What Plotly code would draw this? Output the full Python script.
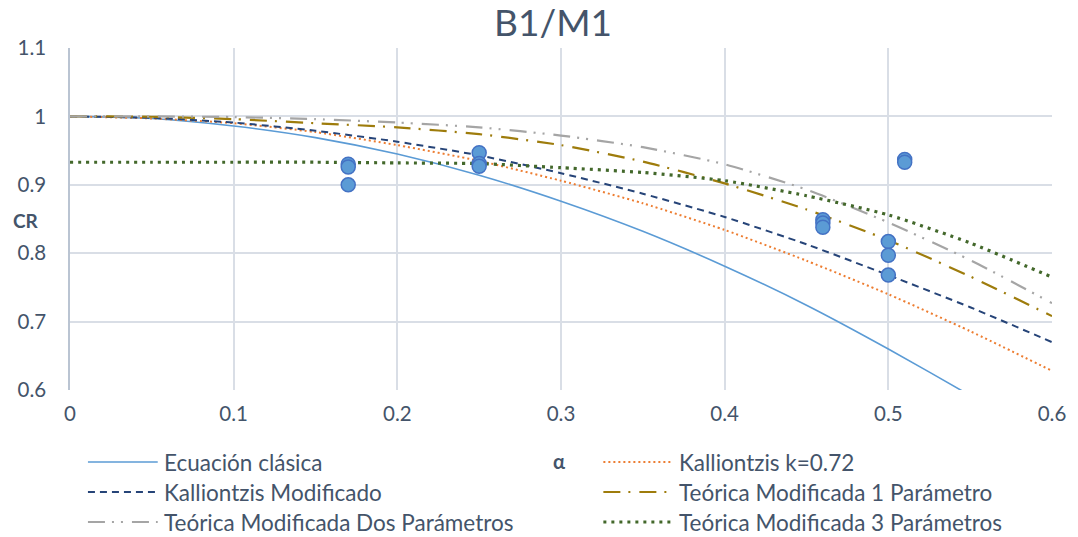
import plotly.graph_objects as go

# Relative load ratio alpha at which each curve is evaluated
alpha = [0.0, 0.05, 0.10, 0.15, 0.20, 0.25, 0.30, 0.35, 0.40, 0.45, 0.50, 0.55, 0.60]

cr_clasica = [1.000, 0.997, 0.986, 0.969, 0.945, 0.914, 0.876, 0.832, 0.781, 0.724, 0.660, 0.592, 0.520]
cr_kall_072 = [1.000, 0.997, 0.990, 0.977, 0.958, 0.935, 0.906, 0.873, 0.834, 0.789, 0.740, 0.686, 0.628]
cr_kall_mod = [1.000, 0.998, 0.991, 0.979, 0.963, 0.943, 0.917, 0.887, 0.853, 0.813, 0.768, 0.721, 0.670]
cr_teo_1p = [1.000, 0.9995, 0.996, 0.990, 0.984, 0.974, 0.958, 0.934, 0.902, 0.864, 0.819, 0.766, 0.708]
cr_teo_2p = [1.000, 1.000, 0.999, 0.996, 0.991, 0.984, 0.972, 0.955, 0.930, 0.893, 0.845, 0.790, 0.727]
cr_teo_3p = [0.933, 0.933, 0.933, 0.933, 0.932, 0.931, 0.925, 0.918, 0.906, 0.884, 0.856, 0.815, 0.765]

# Experimental results
exp_alpha = [0.17, 0.17, 0.17, 0.25, 0.25, 0.25, 0.46, 0.46, 0.46, 0.50, 0.50, 0.50, 0.51, 0.51]
exp_cr = [0.930, 0.926, 0.900, 0.947, 0.931, 0.927, 0.849, 0.844, 0.838, 0.817, 0.797, 0.768, 0.937, 0.933]

series = [
    ("Ecuación clásica", cr_clasica, "#5B9BD5", 1.6, "solid"),
    ("Kalliontzis k=0.72", cr_kall_072, "#ED7D31", 2.0, "2px,3px"),
    ("Kalliontzis Modificado", cr_kall_mod, "#264478", 2.0, "7px,5px"),
    ("Teórica Modificada 1 Parámetro", cr_teo_1p, "#9E7C0C", 2.2, "17px,8px,2px,9px"),
    ("Teórica Modificada Dos Parámetros", cr_teo_2p, "#A5A5A5", 2.2, "17px,7px,2px,7px,2px,9px"),
    ("Teórica Modificada 3 Parámetros", cr_teo_3p, "#43682B", 3.2, "3px,5px"),
]

FONT = "Lato, Carlito, 'Open Sans', sans-serif"
TEXT = "#44546A"
GRID = "#D9DEE6"

# Plot area in pixels (left, right, top, bottom) of the 1078x537 page
W, H = 1078, 537
L, R, T, B = 70, 1055, 48, 390

fig = go.Figure()

for name, ys, color, width, dash in series:
    fig.add_trace(go.Scatter(
        x=alpha, y=ys, mode="lines", name=name, showlegend=False,
        line=dict(color=color, width=width, dash=dash, shape="spline", smoothing=0.6),
    ))

fig.add_trace(go.Scatter(
    x=exp_alpha, y=exp_cr, mode="markers", name="Ensayos", showlegend=False,
    marker=dict(size=14, color="#5B9BD5", line=dict(color="#4472C4", width=1.5)),
))


def px_to_paper(xp, yp):
    return (xp - L) / (R - L), (B - yp) / (B - T)


# Two-column legend drawn below the axis
col_x = [88, 605]
row_y = [462, 492, 522]
shapes, annotations = [], []
for i, (name, ys, color, width, dash) in enumerate(series):
    cx = col_x[i % 2]
    cy = row_y[i // 2]
    x0, y0 = px_to_paper(cx, cy)
    x1, _ = px_to_paper(cx + 70, cy)
    shapes.append(dict(type="line", xref="paper", yref="paper", x0=x0, x1=x1, y0=y0, y1=y0,
                       line=dict(color=color, width=width, dash=dash)))
    tx, _ = px_to_paper(cx + 74, cy)
    annotations.append(dict(text=name, xref="paper", yref="paper", x=tx, y=y0,
                            xanchor="left", yanchor="middle", showarrow=False,
                            font=dict(family=FONT, size=22.5, color=TEXT)))

# Axis titles
ax, ay = px_to_paper(560, 461)
annotations.append(dict(text="<b>α</b>", xref="paper", yref="paper", x=ax, y=ay,
                        xanchor="center", yanchor="middle", showarrow=False,
                        font=dict(family=FONT, size=20, color=TEXT)))
cx_, cy_ = px_to_paper(11, 221)
annotations.append(dict(text="<b>CR</b>", xref="paper", yref="paper", x=cx_, y=cy_,
                        xanchor="left", yanchor="middle", showarrow=False,
                        font=dict(family=FONT, size=19, color=TEXT)))

fig.update_layout(
    width=W, height=H,
    margin=dict(l=L, r=W - R, t=T, b=H - B, pad=0),
    paper_bgcolor="white", plot_bgcolor="white",
    title=dict(text="B1/M1", x=553 / W, xanchor="center", y=1 - 23 / H, yanchor="middle",
               font=dict(family=FONT, size=37, color=TEXT)),
    shapes=shapes, annotations=annotations,
    showlegend=False,
)

fig.update_xaxes(
    range=[0, 0.6], dtick=0.1, tick0=0, showgrid=True, gridcolor=GRID, gridwidth=1.5,
    zeroline=False, showline=False, ticks="", ticklabelstandoff=9,
    tickfont=dict(family=FONT, size=20.5, color=TEXT),
)
fig.update_yaxes(
    range=[0.6, 1.1], dtick=0.1, tick0=0.6, showgrid=True, gridcolor=GRID, gridwidth=1.5,
    zeroline=False, showline=True, linecolor="#BAC4D2", linewidth=1.5, ticks="",
    ticklabelstandoff=18, tickfont=dict(family=FONT, size=20.5, color=TEXT),
)

fig.write_html("out.html")
